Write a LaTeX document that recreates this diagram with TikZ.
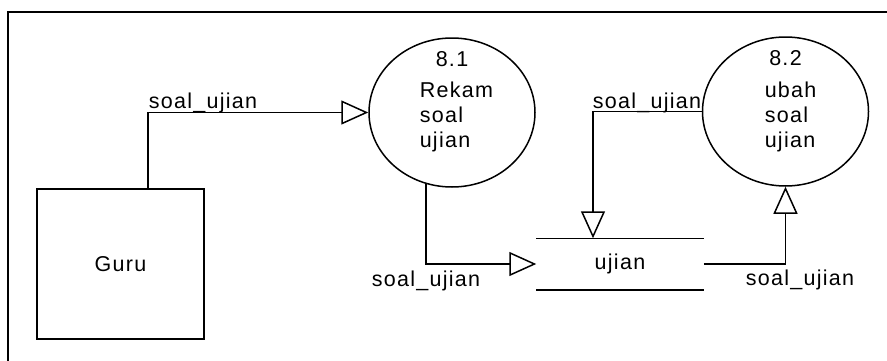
\documentclass[tikz,border=0pt]{standalone}
\usepackage{fontspec}
\setmainfont{Liberation Sans}[LetterSpace=6]
\usetikzlibrary{arrows.meta,positioning,shapes.geometric}

\begin{document}
\begin{tikzpicture}[
  x=1pt, y=1pt,
  font=\fontsize{21.5}{25}\selectfont,
  line width=1.5pt,
  entity/.style={draw, rectangle, minimum width=167pt,
                 minimum height=150pt, inner sep=0pt},
  proc/.style={draw, ellipse, minimum width=166pt,
               minimum height=149pt, inner sep=0pt},
  datastore/.style={minimum width=166pt, minimum height=50pt, inner sep=0pt},
  lbl/.style={inner sep=0pt, anchor=base west},
  flow/.style={-{Triangle[open, length=27pt, width=24pt]}}
]
\useasboundingbox (0,0) rectangle (887,360);
% outer frame
\draw[line width=2.2pt] (8,-5) |- (895,348);

% entity, processes, store
\node[entity] (guru) at (120.5,96) {Guru};
\node[proc] (p81) at (452,247.5) {};
\node[proc] (p82) at (785.5,248.5) {};
\node[datastore] (ujian) at (620,96) {ujian};
\draw (ujian.north west) -- (ujian.north east);
\draw (ujian.south west) -- (ujian.south east);

% process texts
\node[anchor=base, inner sep=0pt] (n81) at ([yshift=46pt]p81.center) {8.1};
\node[lbl, align=left] (t81) at (419,213) {Rekam\\soal\\ujian};
\node[anchor=base, inner sep=0pt] (n82) at ([yshift=46pt]p82.center) {8.2};
\node[lbl, align=left] (t82) at (764,213) {ubah\\soal\\ujian};

% data flows
\draw[flow] ([xshift=27.5pt]guru.north) |- (p81);
\draw[flow] (p81.250) |- (ujian.west);
\draw[flow] (ujian.east) -| (p82);
\draw[flow] (p82) -| ([xshift=-27pt]ujian.north);

% flow labels
\node[lbl] (f1) at (148,251.5) {soal\_ujian};
\node[lbl] (f2) at (371,74) {soal\_ujian};
\node[lbl] (f3) at (745,75) {soal\_ujian};
\node[lbl] (f4) at (592,251.5) {soal\_ujian};
\end{tikzpicture}
\end{document}
